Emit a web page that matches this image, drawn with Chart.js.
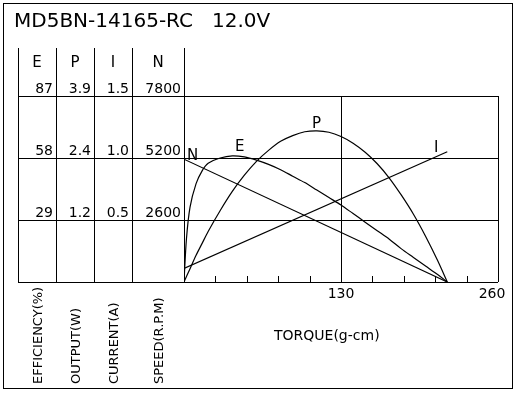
<!DOCTYPE html>
<html><head><meta charset="utf-8">
<script src="https://cdn.jsdelivr.net/npm/chart.js@4"></script>
<style>html,body{margin:0;padding:0;background:#fff}#w{width:516px;height:400px}</style>
</head><body><div id="w"><canvas id="c" width="516" height="400"></canvas></div>
<script>
const title = "MD5BN-14165-RC   12.0V";
const torqueLine = [0, 218];
const speedN = [5150, 0];
const currentI = [0.11, 1.05];
const torqueP = [0,5,10,15,20,30,40,50,60,70,80,90,100,110,120,130,140,150,160,170,180,190,200,210,218];
const outputP = [0,0.28,0.56,0.81,1.06,1.50,1.90,2.24,2.53,2.76,2.95,3.07,3.15,3.17,3.14,3.05,2.91,2.72,2.48,2.18,1.82,1.42,0.96,0.45,0];
const torqueE = [0,2,5,10,15,20,30,40,50,60,70,80,90,100,110,120,130,140,150,160,170,180,190,200,210,218];
const effE = [0,20,35,46,52,55.5,58,59,58.5,57,55,52.5,49.5,46.5,43,39.5,36,32,28,24,20,15.5,11.5,7.5,3.5,0];
const colHeads = ["E", "P", "I", "N"];
const colTicks = [["87","58","29"],["3.9","2.4","1.2"],["1.5","1.0","0.5"],["7800","5200","2600"]];
const speedTicks = [7800, 5200, 2600];
const xLabels = [130, 260];
const axisNames = ["EFFICIENCY(%)", "OUTPUT(W)", "CURRENT(A)", "SPEED(R.P.M)"];
const xTitle = "TORQUE(g-cm)";

const mk = (xs, arr, axis, tension) => ({data: xs.map((t,i)=>({x:t,y:arr[i]})), yAxisID: axis, borderColor:'#000', borderWidth:1.2, pointRadius:0, tension:tension, fill:false});
const hid = (max) => ({type:'linear', min:0, max:max, display:false});
const colX = [18, 56, 94, 132, 184];
const font = '"DejaVu Sans", sans-serif';

const deco = {
  id:'deco',
  afterDraw(ch){
    const c = ch.ctx, a = ch.chartArea, yN = ch.scales.yN, x = ch.scales.x;
    c.save();
    c.strokeStyle='#000'; c.fillStyle='#000'; c.lineWidth=1;
    c.strokeRect(3.5, 3.5, 509, 385);
    c.font='20px '+font; c.textBaseline='alphabetic'; c.textAlign='left';
    c.fillText(title, 14, 27);
    c.beginPath();
    [7800,5200,2600,0].forEach(v=>{const y=Math.round(yN.getPixelForValue(v))+0.5; c.moveTo(colX[0],y); c.lineTo(a.right,y);});
    for(let i=0;i<colX.length;i++){c.moveTo(colX[i]+0.5,48); c.lineTo(colX[i]+0.5,a.bottom);}
    const x130=Math.round(x.getPixelForValue(130))+0.5;
    c.moveTo(x130,a.top); c.lineTo(x130,a.bottom);
    c.moveTo(a.right+0.5,a.top); c.lineTo(a.right+0.5,a.bottom);
    for(let t=26;t<260;t+=26){const px=Math.round(x.getPixelForValue(t))+0.5; c.moveTo(px,a.bottom); c.lineTo(px,a.bottom-6);}
    c.stroke();
    c.font='15px '+font; c.textAlign='center';
    colHeads.forEach((h,i)=>c.fillText(h,(colX[i]+colX[i+1])/2,67));
    c.font='14px '+font; c.textAlign='right';
    speedTicks.forEach((v,r)=>{const y=yN.getPixelForValue(v)-3;
      colTicks.forEach((col,i)=>c.fillText(col[r], colX[i+1]-3, y));});
    c.textAlign='center';
    xLabels.forEach(v=>{const px=x.getPixelForValue(v); c.fillText(String(v), v===260?px-6:px, a.bottom+16);});
    c.textAlign='left';
    c.fillText(xTitle, 274, 340);
    c.font='15px '+font;
    c.fillText("N", 187, 160); c.fillText("E", 235, 151); c.fillText("P", 312, 128); c.fillText("I", 434, 152);
    c.font='13px '+font;
    axisNames.forEach((t,i)=>{c.save(); c.translate((colX[i]+colX[i+1])/2+5, 384); c.rotate(-Math.PI/2); c.textAlign='left'; c.fillText(t,0,0); c.restore();});
    c.restore();
  }
};

new Chart(document.getElementById('c'), {
  type:'line',
  data:{datasets:[mk(torqueLine,speedN,'yN',0), mk(torqueLine,currentI,'yI',0), mk(torqueP,outputP,'yP',0.3), mk(torqueE,effE,'yE',0.3)]},
  options:{
    responsive:false, animation:false, devicePixelRatio:1,
    layout:{padding:{left:184, right:18, top:96, bottom:118}},
    plugins:{legend:{display:false}, tooltip:{enabled:false}},
    scales:{
      x:{type:'linear', min:0, max:260, display:false},
      yN:hid(7800), yI:hid(1.5), yP:hid(3.9), yE:hid(87)
    }
  },
  plugins:[deco]
});
</script></body></html>
